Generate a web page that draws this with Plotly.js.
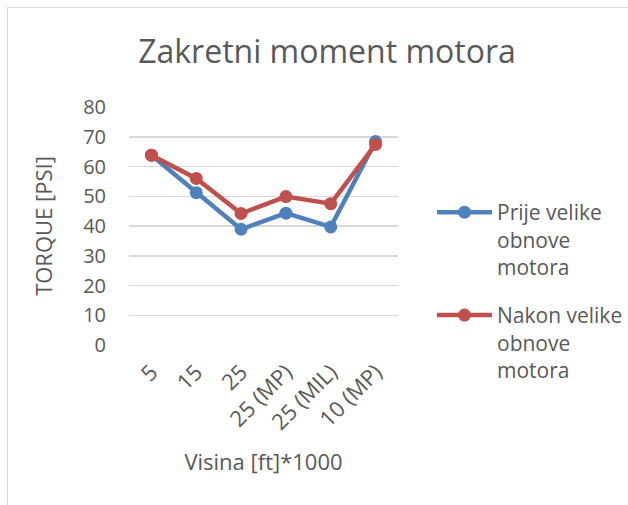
<!DOCTYPE html>
<html><head><meta charset="utf-8">
<script src="https://cdn.plot.ly/plotly-3.0.1.min.js"></script>
<style>
body{margin:0;padding:0;background:#fff;}
#wrap{position:relative;width:628px;height:505px;overflow:hidden;}
#chart{width:628px;height:505px;}
#frame{position:absolute;left:7px;top:7px;width:660px;height:560px;border:1.5px solid #d9d9d9;pointer-events:none;}
</style></head>
<body><div id="wrap"><div id="chart"></div><div id="frame"></div></div>
<script>
const categories = ["5", "15", "25", "25 (MP)", "25 (MIL)", "10 (MP)"];
const prije = [63.8, 51.2, 38.9, 44.3, 39.7, 68.4];
const nakon = [63.8, 56.0, 44.2, 49.9, 47.5, 67.4];
const seriesNames = ["Prije velike<br>obnove<br>motora", "Nakon velike<br>obnove<br>motora"];
const FONT = "Open Sans, Calibri, sans-serif";
const txt = "#595959";
const traces = [
  {x: categories, y: prije, name: seriesNames[0], legendgroup: "g1", type: "scatter", mode: "lines+markers",
   line: {color: "#4f81bd", width: 4.5}, marker: {color: "#4f81bd", size: 13}},
  {x: categories, y: nakon, name: seriesNames[1], legendgroup: "g2", type: "scatter", mode: "lines+markers",
   line: {color: "#c0504d", width: 4.5}, marker: {color: "#c0504d", size: 13}}
];
const layout = {
  width: 628, height: 505,
  margin: {l: 129, r: 230, t: 107, b: 160},
  paper_bgcolor: "#fff", plot_bgcolor: "#fff",
  font: {family: FONT, color: txt},
  title: {text: "Zakretni moment motora", font: {size: 32, color: txt, family: FONT},
          x: 327/628, xanchor: "center", y: 1 - 52/505, yanchor: "middle", xref: "container", yref: "container"},
  xaxis: {type: "category", range: [-0.5, 5.5], tickangle: -45, showgrid: false, zeroline: false,
          showline: false, ticks: "", tickfont: {size: 22, color: txt}, ticklabelstandoff: 9,
          title: {text: "Visina [ft]*1000", font: {size: 22, color: txt}, standoff: 20}},
  yaxis: {range: [0, 80], dtick: 10, showgrid: true, gridcolor: "#d9d9d9", gridwidth: 1.5,
          zeroline: false, showline: false, ticks: "", tickfont: {size: 20, color: txt},
          ticklabelstandoff: 22,
          title: {text: "TORQUE [PSI]", font: {size: 22, color: txt}, standoff: 24}},
  showlegend: true,
  legend: {x: 432/628, xanchor: "left", xref: "container", y: 1 - 192/505, yanchor: "top", yref: "container",
           font: {size: 21, color: txt}, itemwidth: 55, tracegroupgap: 18, bgcolor: "rgba(0,0,0,0)",
           valign: "top"}
};
Plotly.newPlot("chart", traces, layout, {displayModeBar: false, staticPlot: true});
</script></body></html>
